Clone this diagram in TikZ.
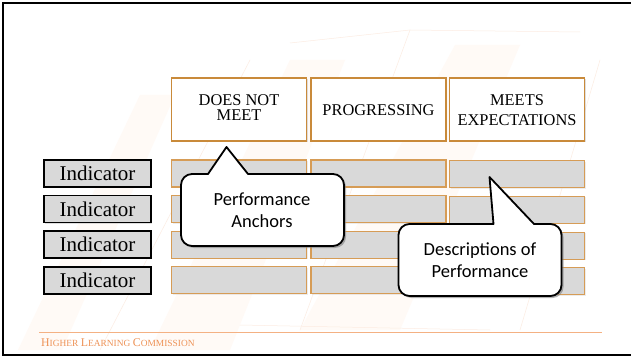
\documentclass[tikz,border=0pt]{standalone}
\usepackage{fontspec}
\setmainfont{Liberation Serif}
\newfontfamily\calloutfont{Carlito}
\usetikzlibrary{shadows}

\definecolor{hdrline}{RGB}{201,138,58}
\definecolor{cellline}{RGB}{214,156,86}
\definecolor{cellfill}{RGB}{217,217,217}
\definecolor{footline}{RGB}{244,177,131}
\definecolor{foottext}{RGB}{238,146,86}
\definecolor{wmfill}{RGB}{255,250,246}
\definecolor{wmline}{RGB}{252,236,226}

\tikzset{
  hdrbox/.style={draw=hdrline, line width=1.3pt, fill=white, align=center,
    drop shadow={opacity=0.25, shadow xshift=1.2pt, shadow yshift=-1.2pt}},
  cellbox/.style={draw=cellline, line width=1.1pt, fill=cellfill,
    drop shadow={opacity=0.15, shadow xshift=1pt, shadow yshift=-1pt}},
  indbox/.style={draw=black, line width=1.8pt, fill=cellfill,
    font=\fontsize{21}{23}\selectfont,
    drop shadow={opacity=0.25, shadow xshift=1pt, shadow yshift=-1pt}},
  callout/.style={draw=black, line width=1.8pt, fill=white, line join=round,
    drop shadow={opacity=0.6, shadow xshift=2pt, shadow yshift=-2pt}},
  callouttext/.style={font=\calloutfont\fontsize{18.5}{22}\selectfont, align=center},
  hdrtext/.style={font=\fontsize{16.4}{15}\selectfont, align=center},
}

\newcommand{\fsc}[2]{{\fontsize{11.8}{12}\selectfont #1}{\fontsize{9.4}{12}\selectfont #2}}

\begin{document}
\begin{tikzpicture}[x=1pt,y=-1pt]
\useasboundingbox (0,0) rectangle (631,358);
\fill[white] (0,0) rectangle (631,358);

% faint watermark swooshes in the background
\begin{scope}
  \fill[wmfill] (18,350) -- (62,350) -- (175,95) -- (140,95) -- cycle;
  \fill[wmfill] (150,350) -- (230,350) -- (345,60) -- (290,60) -- cycle;
  \fill[wmfill] (300,330) -- (400,330) -- (520,45) -- (455,45) -- cycle;
  \draw[wmline, line width=0.5pt] (290,43) -- (410,30) -- (580,32);
  \draw[wmline, line width=0.5pt] (410,30) -- (300,330);
  \draw[wmline, line width=0.5pt] (240,325) -- (490,330);
  \draw[wmline, line width=0.5pt] (100,350) -- (250,60);
  \draw[wmline, line width=0.5pt] (520,330) -- (600,60);
\end{scope}

% slide frame
\draw[black, line width=2.5pt] (631,3) -- (3,3) -- (3,355) -- (631,355);

% column headers
\node[hdrbox, minimum width=135pt, minimum height=63pt] (h1) at (239,109.5) {};
\node[hdrbox, minimum width=135pt, minimum height=63pt] (h2) at (378.5,109.5) {};
\node[hdrbox, minimum width=135pt, minimum height=63pt] (h3) at (517,109.5) {};
\node[hdrtext] (t1) at (239,107.5) {DOES NOT\\MEET};
\node[hdrtext, font=\fontsize{16.4}{20}\selectfont] (t2) at (378.5,110) {PROGRESSING};
\node[hdrtext, font=\fontsize{16.4}{20}\selectfont] (t3) at (517,110.5) {MEETS\\EXPECTATIONS};

% indicator rows and their grey cells
\foreach \r/\y in {1/173.5, 2/209, 3/244.8, 4/280.3} {
  \node[indbox, minimum width=107pt, minimum height=27pt, inner sep=0pt] (ind\r) at (97.5,\y) {Indicator};
  \node[cellbox, minimum width=135pt, minimum height=27pt] (c\r a) at (239,\y) {};
  \node[cellbox, minimum width=135pt, minimum height=27pt] (c\r b) at (378.5,\y) {};
  \node[cellbox, minimum width=135pt, minimum height=27pt] (c\r c) at (517,\y+0.8) {};
}

% callout: performance anchors
\coordinate (tipA) at (226.5,147);
\draw[callout] (208,174) -- (tipA) -- (248,174)
  [rounded corners=11pt] -- (344,174) -- (344,246) -- (181,246) -- (181,174) [sharp corners] -- cycle;
\node[callouttext] (pa) at (262,210) {Performance\\Anchors};

% callout: descriptions of performance
\coordinate (tipB) at (489.5,177);
\draw[callout] (493.5,224) -- (tipB) -- (534,224)
  [rounded corners=11pt] -- (561.5,224) -- (561.5,296) -- (398.5,296) -- (398.5,224) [sharp corners] -- cycle;
\node[callouttext] (dp) at (480,260) {Descriptions of\\Performance};

% footer
\coordinate (fl) at (39,332.5);
\coordinate (fr) at (602,332.5);
\draw[footline, line width=0.8pt] (fl) -- (fr);
\node[anchor=west, text=foottext, inner sep=0pt] (foot) at (41,342.5)
  {\fsc{H}{IGHER} \fsc{L}{EARNING} \fsc{C}{OMMISSION}};
\end{tikzpicture}
\end{document}
